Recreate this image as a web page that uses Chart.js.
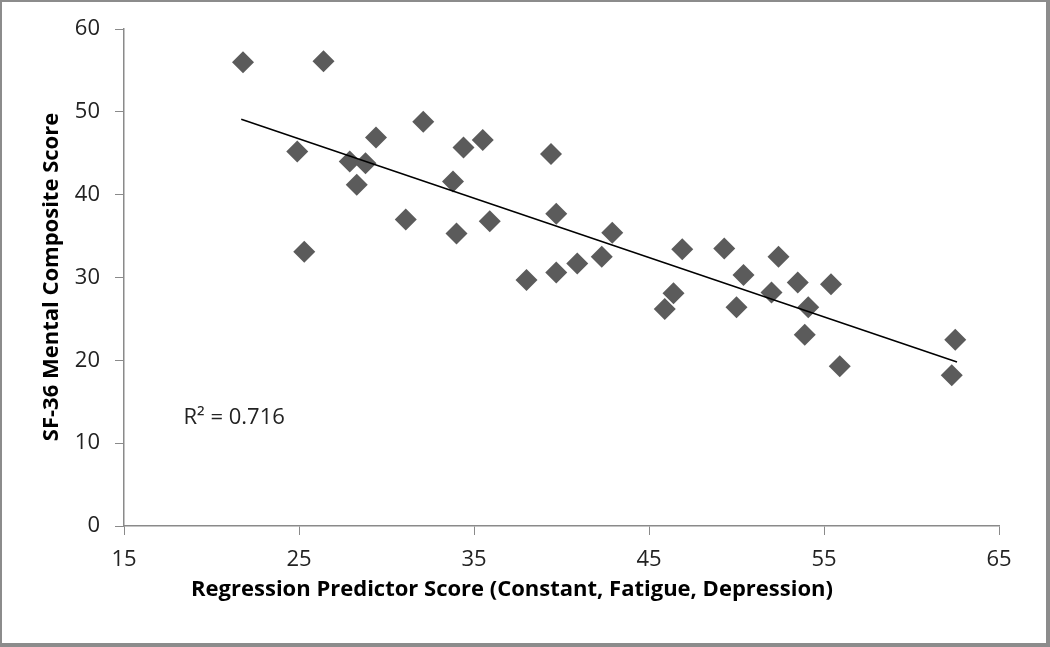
<!DOCTYPE html>
<html>
<head>
<meta charset="utf-8">
<script src="https://cdn.jsdelivr.net/npm/chart.js@4.4.1/dist/chart.umd.min.js"></script>
<style>
  html, body { margin: 0; padding: 0; background: #fff; }
  #wrap { width: 1050px; height: 647px; position: relative; }
</style>
</head>
<body>
<div id="wrap"><canvas id="chart" width="1050" height="647"></canvas></div>
<script>
// Data
const predictorScore = [
    21.8, 26.4, 24.9, 25.3, 27.9, 28.8, 28.3, 29.4, 31.1, 32.1,
    33.8, 34.0, 34.4, 35.5, 35.9, 38.0, 39.4, 39.7, 39.7, 40.9,
    42.3, 42.9, 46.9, 46.4, 45.9, 49.3, 50.4, 50.0, 52.4, 52.0,
    53.5, 55.4, 54.1, 53.9, 55.9, 62.5, 62.3
];
const mentalScore = [
    56.0, 56.1, 45.2, 33.1, 44.0, 43.8, 41.2, 46.9, 37.0, 48.8,
    41.6, 35.3, 45.7, 46.6, 36.8, 29.7, 44.9, 37.7, 30.6, 31.7,
    32.5, 35.4, 33.4, 28.1, 26.2, 33.5, 30.3, 26.4, 32.5, 28.2,
    29.4, 29.2, 26.4, 23.1, 19.3, 22.5, 18.2
];
// Linear trendline end points
const trendX = [21.7, 62.6];
const trendY = [49.1, 19.8];
const xTicks = [15, 25, 35, 45, 55, 65];
const yTicks = [0, 10, 20, 30, 40, 50, 60];
const rSquaredText = 'R\u00b2 = 0.716';

const FONT = "'Open Sans', 'DejaVu Sans', sans-serif";
const AXIS_COLOR = '#8a8a8a';

// Titles, R² label and frame drawn on top of the chart
const decorations = {
    id: 'decorations',
    afterDraw(chart) {
        const ctx = chart.ctx;
        const xs = chart.scales.x, ys = chart.scales.y;
        ctx.save();
        ctx.fillStyle = '#000';
        ctx.font = 'bold 22px ' + FONT;
        ctx.textAlign = 'center';
        ctx.textBaseline = 'middle';
        ctx.fillText('Regression Predictor Score (Constant, Fatigue, Depression)', 512, 590);

        ctx.translate(52, 277);
        ctx.rotate(-Math.PI / 2);
        ctx.fillText('SF-36 Mental Composite Score', 0, 0);
        ctx.restore();

        ctx.save();
        ctx.fillStyle = '#222';
        ctx.font = '22px ' + FONT;
        ctx.textAlign = 'left';
        ctx.textBaseline = 'middle';
        ctx.fillText(rSquaredText, xs.getPixelForValue(18.4), ys.getPixelForValue(13.1));
        ctx.restore();

        // outer frame
        ctx.save();
        ctx.strokeStyle = '#8c8c8c';
        ctx.lineWidth = 2;
        ctx.strokeRect(1, 1, 1046, 643);
        ctx.fillStyle = '#8c8c8c';
        ctx.fillRect(1046, 0, 4, 647);
        ctx.fillRect(0, 643, 1050, 4);
        ctx.restore();
    }
};

function init() {
    const ctx = document.getElementById('chart').getContext('2d');
    new Chart(ctx, {
        type: 'scatter',
        data: {
            datasets: [
                {
                    label: 'Patients',
                    data: predictorScore.map((x, i) => ({ x: x, y: mentalScore[i] })),
                    pointStyle: 'rectRot',
                    pointRadius: 11,
                    pointHoverRadius: 11,
                    backgroundColor: '#5b5b5b',
                    borderColor: '#5b5b5b',
                    borderWidth: 0,
                    order: 2
                },
                {
                    label: 'Linear trend',
                    type: 'line',
                    data: trendX.map((x, i) => ({ x: x, y: trendY[i] })),
                    borderColor: '#000',
                    borderWidth: 1.5,
                    pointRadius: 0,
                    fill: false,
                    order: 1
                }
            ]
        },
        options: {
            responsive: false,
            animation: false,
            layout: { padding: { left: 0, top: 29, right: 51, bottom: 0 } },
            plugins: {
                legend: { display: false },
                tooltip: { enabled: false }
            },
            scales: {
                x: {
                    type: 'linear',
                    min: 15,
                    max: 65,
                    afterBuildTicks: s => { s.ticks = xTicks.map(v => ({ value: v })); },
                    afterFit: s => { s.height = 121; },
                    grid: { drawOnChartArea: false, drawTicks: true, tickLength: 9, color: AXIS_COLOR },
                    border: { color: AXIS_COLOR, width: 1.5 },
                    ticks: { color: '#222', font: { family: FONT, size: 22 }, padding: 12, maxRotation: 0 }
                },
                y: {
                    type: 'linear',
                    min: 0,
                    max: 60,
                    afterBuildTicks: s => { s.ticks = yTicks.map(v => ({ value: v })); },
                    afterFit: s => { s.width = 124; },
                    grid: { drawOnChartArea: false, drawTicks: true, tickLength: 9, color: AXIS_COLOR },
                    border: { color: AXIS_COLOR, width: 1.5 },
                    ticks: { color: '#222', font: { family: FONT, size: 22 }, padding: 15 }
                }
            }
        },
        plugins: [decorations]
    });
}

document.addEventListener('DOMContentLoaded', init);
</script>
</body>
</html>
